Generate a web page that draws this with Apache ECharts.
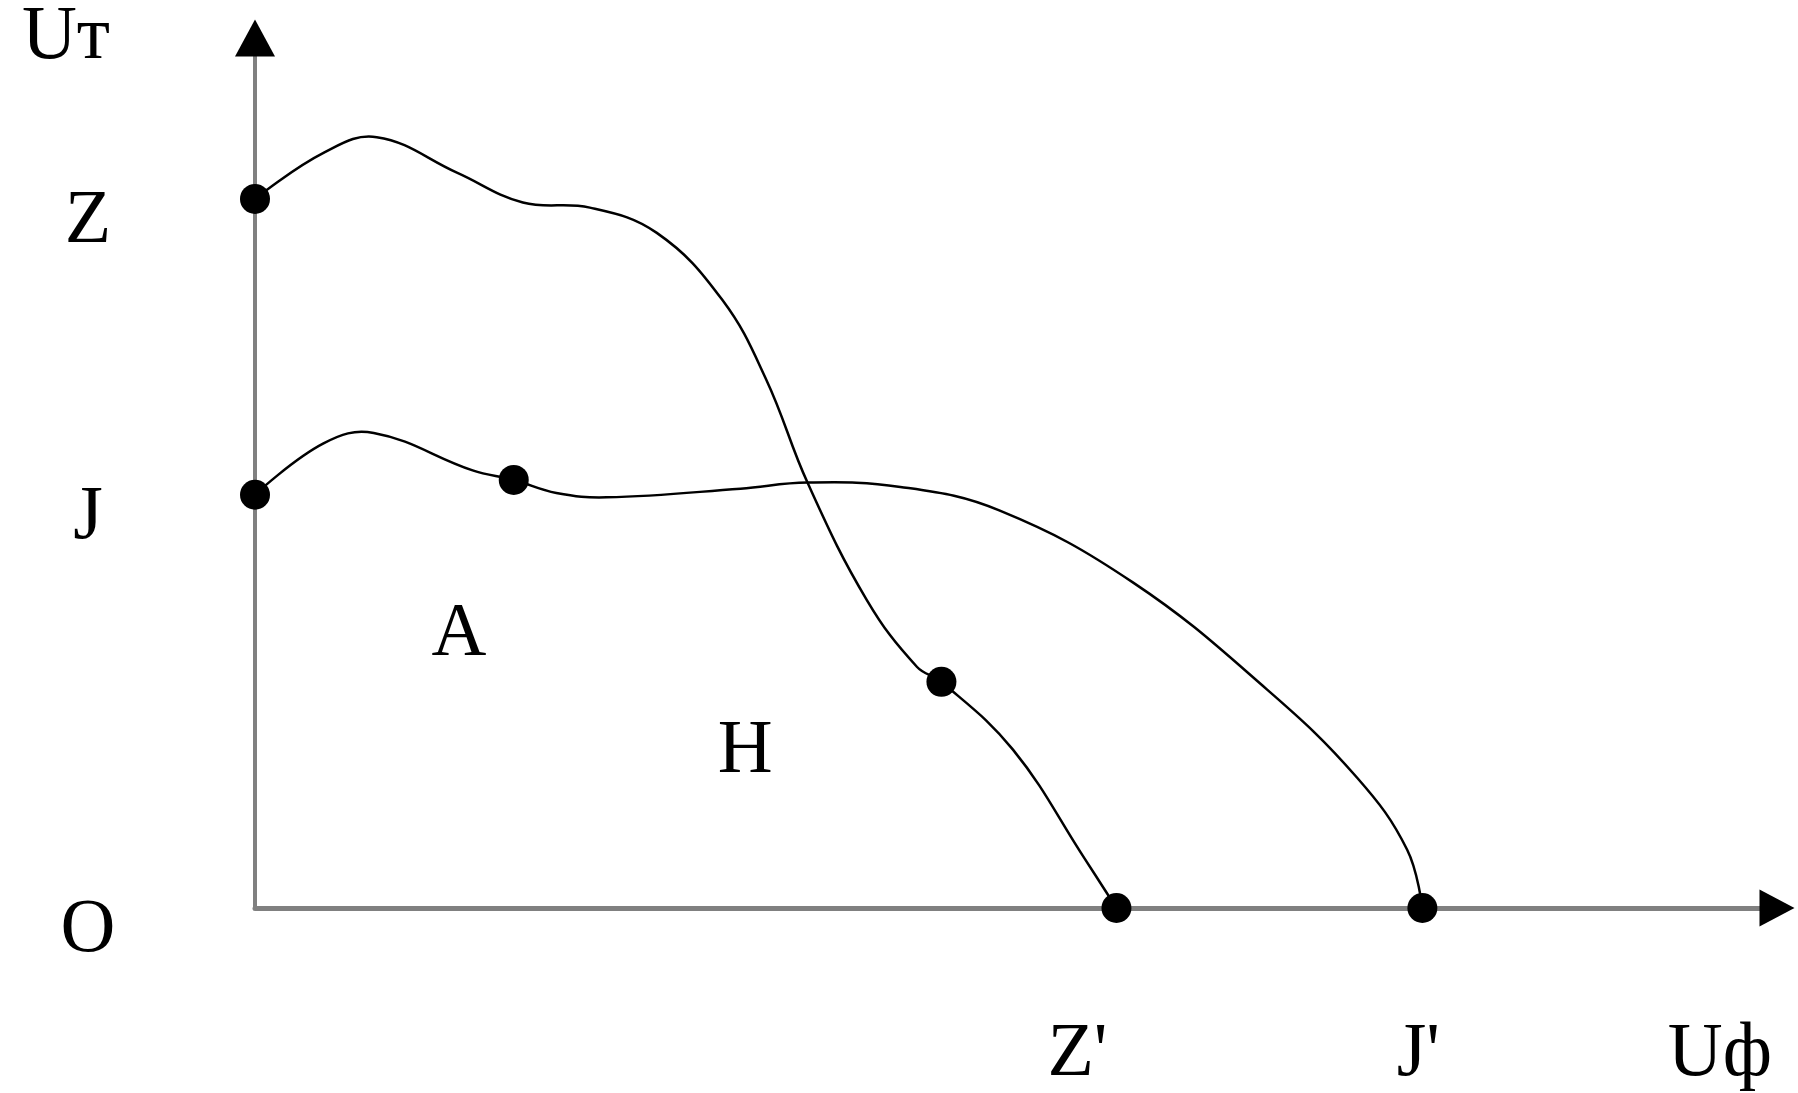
<!DOCTYPE html>
<html>
<head>
<meta charset="utf-8">
<title>Uт / Uф</title>
<script src="https://cdn.jsdelivr.net/npm/echarts@6/dist/echarts.min.js"></script>
<style>
  html, body { margin: 0; padding: 0; background: #fff; }
  #chart { width: 1798px; height: 1093px; }
</style>
</head>
<body>
<div id="chart"></div>
<script>
const X_MAX = 100;
const Y_MAX = 100;

// curve from Z on the Uт axis down to Z' on the Uф axis
const zCurve = [
  [0, 81.5], [4.5, 86.8], [8.0, 88.6], [13.3, 84.5], [17.6, 81.1], [22.0, 80.5],
  [26.4, 77.6], [30.7, 69.9], [33.6, 60.7], [36.3, 48.9], [40.2, 35.4], [43.5, 27.7],
  [45.1, 26.0], [49.8, 18.2], [54.5, 5.7], [56.6, 0],
];

// curve from J down to J'
const jCurve = [
  [0, 47.5], [4.5, 53.4], [7.8, 54.6], [14.3, 50.3], [17.0, 49.2], [19.8, 47.7],
  [23.1, 47.2], [31.9, 48.2], [36.3, 48.9], [42.4, 48.4], [48.9, 45.7], [57.7, 37.4],
  [66.5, 25.1], [72.4, 15.0], [75.7, 6.7], [76.7, 0],
];

// which points of each curve carry a dot
const zDots = [0, 12, 15];
const jDots = [0, 4, 15];

const yTickLabels = ["Z", "J", "O"];
const xTickLabels = ["Z'", "J'"];
const yAxisName = "Uт";
const xAxisName = "Uф";
const areaLabels = [["A", 13.4, 31.4], ["H", 32.2, 17.9]];

const FONT = '"Liberation Serif", "DejaVu Serif", serif';
const FONT_SIZE = 76;
const AXIS_GRAY = "#808080";

const yTickValues = [zCurve[0][1], jCurve[0][1], 0];
const xTickValues = [zCurve[zCurve.length - 1][0], jCurve[jCurve.length - 1][0]];

const dotData = [
  ...zDots.map((i) => zCurve[i]),
  ...jDots.map((i) => jCurve[i]),
];

const textBase = { fontFamily: FONT, fontSize: FONT_SIZE, color: "#000" };

const chart = echarts.init(document.getElementById("chart"), null, { renderer: "canvas" });

// line series clamps its bezier handles and leaves corners; a plain smoothed
// polyline through the same points, placed with api.coord, bends cleanly
const curveSeries = (curve) => ({
  type: "custom",
  coordinateSystem: "cartesian2d",
  data: curve,
  clip: false,
  silent: true,
  z: 3,
  renderItem: (params, api) => {
    if (params.dataIndex !== 0) return null;
    return {
      type: "polyline",
      shape: { points: curve.map((p) => api.coord(p)), smooth: 0.4 },
      style: { stroke: "#000", lineWidth: 2.5, fill: null },
    };
  },
});

chart.setOption({
  animation: false,
  backgroundColor: "#fff",
  grid: { left: 255, right: 21, top: 38, bottom: 185, containLabel: false, outerBoundsMode: "none" },
  xAxis: {
    type: "value",
    min: 0,
    max: X_MAX,
    splitLine: { show: false },
    axisTick: { show: false },
    axisLine: { show: true, onZero: false, lineStyle: { color: AXIS_GRAY, width: 5 } },
    axisLabel: {
      customValues: xTickValues,
      formatter: (v) => {
        const i = xTickValues.indexOf(v);
        return i === 0 ? `{zp|${xTickLabels[0]}}` : `{jp|${xTickLabels[1]}}`;
      },
      margin: 124,
      verticalAlign: "top",
      lineHeight: 46,
      ...textBase,
      rich: {
        zp: { ...textBase, lineHeight: 46, padding: [0, 78, 0, 0] },
        jp: { ...textBase, lineHeight: 46, padding: [0, 8, 0, 0] },
      },
    },
    name: xAxisName,
    nameLocation: "end",
    nameGap: -5,
    nameTextStyle: { ...textBase, align: "right", verticalAlign: "top", lineHeight: 46, padding: [124, 0, 0, 0] },
  },
  yAxis: {
    type: "value",
    min: 0,
    max: Y_MAX,
    splitLine: { show: false },
    axisTick: { show: false },
    axisLine: { show: true, lineStyle: { color: AXIS_GRAY, width: 4 } },
    axisLabel: {
      customValues: yTickValues,
      formatter: (v) => yTickLabels[yTickValues.indexOf(v)],
      margin: 167,
      align: "center",
      verticalAlign: "top",
      lineHeight: 46,
      ...textBase,
    },
    name: yAxisName,
    nameLocation: "end",
    nameGap: 0,
    nameTextStyle: { ...textBase, align: "right", verticalAlign: "middle", lineHeight: 52, padding: [0, 145, 0, 0] },
  },
  series: [
    curveSeries(zCurve),
    curveSeries(jCurve),
    {
      type: "scatter",
      data: dotData,
      symbol: "circle",
      symbolSize: 30,
      clip: false,
      silent: true,
      itemStyle: { color: "#000", opacity: 1 },
      z: 4,
    },
    {
      // arrow heads at the axis ends
      type: "scatter",
      symbol: "triangle",
      clip: false,
      silent: true,
      itemStyle: { color: "#000", opacity: 1 },
      data: [
        { value: [X_MAX, 0], symbolSize: [37, 35], symbolRotate: -90 },
        { value: [0, Y_MAX], symbolSize: [40, 37] },
      ],
      z: 4,
    },
    {
      type: "scatter",
      data: areaLabels.map(([name, x, y]) => ({ name, value: [x, y] })),
      symbolSize: 0,
      silent: true,
      itemStyle: { opacity: 1 },
      label: { show: true, position: "inside", formatter: "{b}", ...textBase },
    },
  ],
});
</script>
</body>
</html>
